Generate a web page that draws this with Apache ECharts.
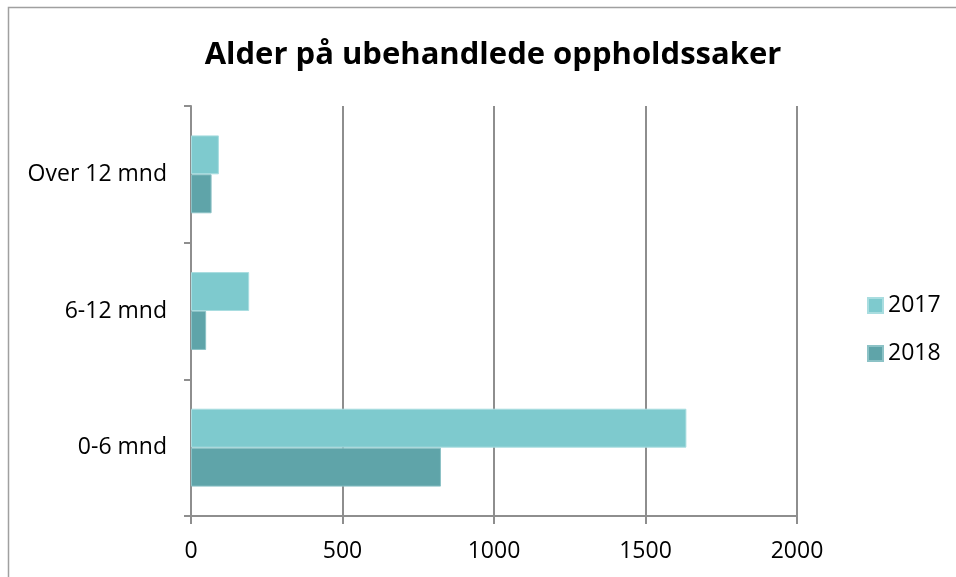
<!DOCTYPE html>
<html>
<head>
<meta charset="utf-8">
<script src="https://cdn.jsdelivr.net/npm/echarts@6/dist/echarts.min.js"></script>
<style>
html, body { margin: 0; padding: 0; background: #fff; }
#chart { width: 956px; height: 577px; }
</style>
</head>
<body>
<div id="chart"></div>
<script>
// data
var categories = ['0-6 mnd', '6-12 mnd', 'Over 12 mnd'];
var years = ['2017', '2018'];
var values2017 = [1635, 192, 92];
var values2018 = [825, 50, 68];
var xTicks = { min: 0, max: 2000, interval: 500 };

var chart = echarts.init(document.getElementById('chart'));
var font = '"Open Sans", "Noto Sans", sans-serif';
var axisGray = '#8e8e8e';

var option = {
	animation: false,
	backgroundColor: '#fff',
	textStyle: { fontFamily: font },
	title: {
		text: 'Alder på ubehandlede oppholdssaker',
		left: 488,
		top: 35,
		textAlign: 'center',
		textStyle: { fontFamily: font, fontSize: 31, fontWeight: 'bold', color: '#000' }
	},
	graphic: [{
		type: 'rect',
		shape: { x: 8.5, y: 7.5, width: 1000, height: 1000 },
		style: { fill: 'none', stroke: '#a0a0a0', lineWidth: 1.5 },
		silent: true
	}],
	legend: {
		orient: 'vertical',
		left: 862,
		top: 289,
		itemWidth: 15,
		itemHeight: 15,
		itemGap: 25,
		icon: 'rect',
		textStyle: { fontFamily: font, fontSize: 23, color: '#000' },
		data: years
	},
	grid: { left: 191, right: 159, top: 106, bottom: 61 },
	xAxis: {
		type: 'value',
		min: xTicks.min,
		max: xTicks.max,
		interval: xTicks.interval,
		axisLine: { show: true, lineStyle: { color: axisGray, width: 2 } },
		axisTick: { show: true, length: 8, lineStyle: { color: axisGray, width: 2 } },
		axisLabel: { fontFamily: font, fontSize: 23, color: '#000', margin: 24, formatter: function (v) { return String(v); } },
		splitLine: { show: true, lineStyle: { color: axisGray, width: 2 } }
	},
	yAxis: {
		type: 'category',
		data: categories,
		axisLine: { show: true, lineStyle: { color: axisGray, width: 2 } },
		axisTick: { show: true, length: 7, lineStyle: { color: axisGray, width: 2 } },
		axisLabel: { fontFamily: font, fontSize: 23, color: '#000', margin: 24 }
	},
	series: [{
		name: years[0],
		type: 'bar',
		data: values2017,
		barGap: '0%',
		barCategoryGap: '43%',
		itemStyle: { color: '#7ecace', borderColor: '#a9dde0', borderWidth: 1 }
	}, {
		name: years[1],
		type: 'bar',
		data: values2018,
		barGap: '0%',
		barCategoryGap: '43%',
		itemStyle: { color: '#5fa4a9', borderColor: '#8cc2c6', borderWidth: 1 }
	}]
};

chart.setOption(option);
</script>
</body>
</html>
